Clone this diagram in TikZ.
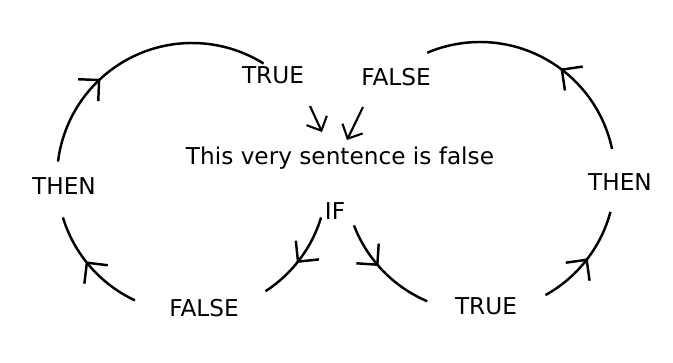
\documentclass[tikz,border=0pt]{standalone}
\usepackage{fontspec}
\setmainfont{DejaVu Sans}
\usetikzlibrary{calc}
\usetikzlibrary{arrows.meta}
\usetikzlibrary{decorations.markings}

\tikzset{
    barb/.style={-{Straight Barb[angle=90:9pt]}, line width=1.2pt},
    loopline/.style={line width=1.4pt},
    midarrow/.style={postaction={decorate}, decoration={markings,
        mark=at position #1 with {\arrow{Straight Barb[angle=90:12pt]}}}},
    word/.style={font=\fontsize{13.2}{15}\selectfont, inner sep=1pt}
}

\begin{document}
\begin{tikzpicture}
    \useasboundingbox (0, 0) rectangle (13.46, 7.24);

    \coordinate (cl) at (3.84, 3.68);
    \coordinate (cr) at (9.60, 3.70);

    % labels
    \node [word] (sentence) at (6.80, 4.08) {This very sentence is false};
    \node [word] (if) at (6.70, 3.02) {IF};
    \node [word] (true1) at (5.46, 5.74) {TRUE};
    \node [word] (false1) at (7.92, 5.70) {FALSE};
    \node [word] (then1) at (1.28, 3.52) {THEN};
    \node [word] (then2) at (12.40, 3.60) {THEN};
    \node [word] (false2) at (4.08, 1.08) {FALSE};
    \node [word] (true2) at (9.72, 1.12) {TRUE};

    % left loop: IF -> FALSE -> THEN -> TRUE
    \draw [loopline, midarrow=0.55] ($(cl)+(343:2.7)$) arc (343:303:2.7);
    \draw [loopline, midarrow=0.56] ($(cl)+(245:2.7)$) arc (245:197:2.7);
    \draw [loopline, midarrow=0.35] ($(cl)+(173:2.7)$) arc (173:58:2.7);

    % right loop: IF -> TRUE -> THEN -> FALSE
    \draw [loopline, midarrow=0.44] ($(cr)+(201:2.7)$) arc (201:247:2.7);
    \draw [loopline, midarrow=0.52] ($(cr)+(299:2.7)$) arc (299:345:2.7);
    \draw [loopline, midarrow=0.41] ($(cr)+(12:2.7)$) arc (12:113:2.7);

    % back into the sentence
    \coordinate (t1) at (6.20, 5.12);
    \coordinate (s1) at (6.44, 4.60);
    \coordinate (f1) at (7.26, 5.10);
    \coordinate (s2) at (6.94, 4.44);
    \draw [barb] (t1) -- (s1);
    \draw [barb] (f1) -- (s2);

\end{tikzpicture}
\end{document}
